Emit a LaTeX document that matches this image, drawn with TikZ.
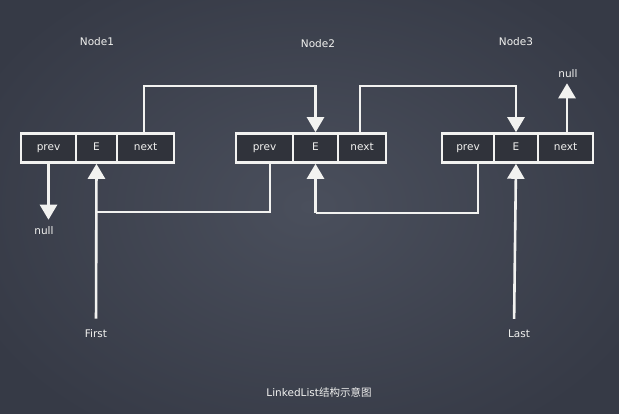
\documentclass[tikz,border=0pt]{standalone}
\usepackage{fontspec}
\setmainfont{DejaVu Sans}
\newfontfamily\cjk{Noto Sans CJK SC}
\usetikzlibrary{arrows.meta}
\definecolor{boardin}{HTML}{4A4F5C}
\definecolor{boardout}{HTML}{363A46}
\definecolor{cellfill}{HTML}{30333B}
\definecolor{chalk}{HTML}{F2F2F0}
\tikzset{
  cell/.style={draw=chalk, fill=cellfill, line width=2.6pt, text=chalk, minimum height=29pt, inner sep=0pt, text height=7.5pt, text depth=2pt, font=\fontsize{10.5}{12}\selectfont},
  lbl/.style={text=chalk, inner sep=1pt, font=\fontsize{10.5}{12}\selectfont},
  line/.style={draw=chalk, line width=2.6pt},
  link/.style={line, -{Triangle[width=17pt,length=15pt]}},
}
\begin{document}
\begin{tikzpicture}[x=1pt,y=-1pt]
\useasboundingbox (0,0) rectangle (619,413);
\shade[inner color=boardin, outer color=boardout] (-60,-60) rectangle (679,473);
% Node1
\node[cell, minimum width=55pt] (p1) at (48.5,148) {prev};
\node[cell, minimum width=41pt] (e1) at (96.5,148) {E};
\node[cell, minimum width=57pt] (n1) at (145.5,148) {next};
% Node2
\node[cell, minimum width=57pt] (p2) at (264.5,148) {prev};
\node[cell, minimum width=45pt] (e2) at (315.5,148) {E};
\node[cell, minimum width=48pt] (n2) at (362,148) {next};
% Node3
\node[cell, minimum width=52pt] (p3) at (468,148) {prev};
\node[cell, minimum width=44pt] (e3) at (516,148) {E};
\node[cell, minimum width=55pt] (n3) at (565.5,148) {next};
% labels
\node[lbl] (t1) at (97,42) {Node1};
\node[lbl] (t2) at (318,44) {Node2};
\node[lbl] (t3) at (516,42) {Node3};
\node[lbl] (null1) at (44,231) {null};
\node[lbl] (null3) at (568,74) {null};
\node[lbl] (first) at (96,334) {First};
\node[lbl] (last) at (519,334) {Last};
\node[lbl] (cap) at (319,392) {LinkedList{\cjk 结构示意图}};
% coordinates
\coordinate (top1) at (144,86);
\coordinate (top2) at (360,86);
\coordinate (j1) at (96.5,212);
\coordinate (j2) at (315.5,213);
% next links
\draw[link] ([xshift=-1.5pt]n1.north) -- (top1) -| (e2.north);
\draw[link] ([xshift=-2pt]n2.north) -- (top2) -| (e3.north);
\draw[link, shorten >=4pt] ([xshift=1.5pt]n3.north) -- ([xshift=1.5pt]n3.north |- null3.south);
\draw[link, shorten >=6pt] (p1.south) -- (p1.south |- null1.north);
% prev links
\draw[line] ([xshift=5.5pt]p2.south) |- (j1);
\draw[line] ([xshift=10pt]p3.south) |- (j2);
\draw[link] (j2) -- (e2.south);
% First / Last
\draw[link, shorten <=10pt] (first.north) -- (e1.south);
\draw[link, shorten <=10pt] ([xshift=-5pt]last.north) -- (e3.south);
\end{tikzpicture}
\end{document}
